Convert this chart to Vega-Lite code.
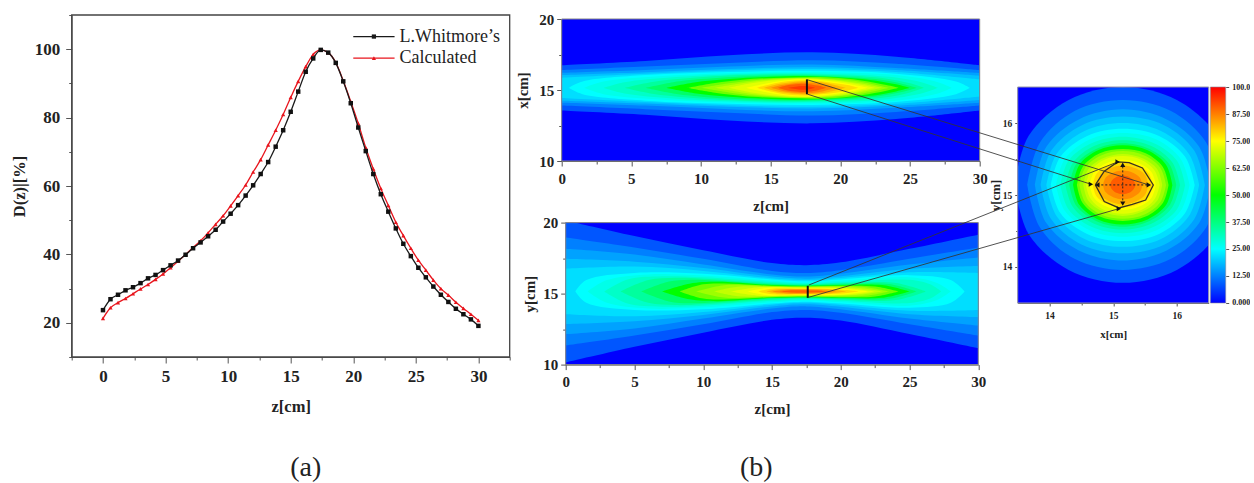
{"$schema":"https://vega.github.io/schema/vega-lite/v6.json","padding":{"left":10.7,"top":12,"right":0,"bottom":0},"autosize":"pad","background":"white","bounds":"flush","spacing":456,
"config":{"view":{"stroke":null},"axis":{"labelFont":"Liberation Serif","titleFont":"Liberation Serif","labelFontWeight":"bold","titleFontWeight":"bold","domainColor":"#555","tickColor":"#555","labelColor":"#222","titleColor":"#222","grid":false,"labelFlush":false,"labelOverlap":false}},
"datasets":{
"one":[{"a":1}],
"curve":[{"z":0,"k":23.7,"r":21.3},{"z":0.6,"k":26.9,"r":24.4},{"z":1.2,"k":28.2,"r":25.9},{"z":1.8,"k":29.5,"r":27.1},{"z":2.4,"k":30.4,"r":28.5},{"z":3,"k":31.6,"r":29.9},{"z":3.6,"k":33,"r":31.2},{"z":4.2,"k":34,"r":32.7},{"z":4.8,"k":35.4,"r":34.3},{"z":5.4,"k":36.8,"r":36.1},{"z":6,"k":38.2,"r":38},{"z":6.6,"k":39.9,"r":40},{"z":7.2,"k":41.8,"r":42},{"z":7.8,"k":43.5,"r":44},{"z":8.4,"k":45.3,"r":46.3},{"z":9,"k":47.2,"r":48.8},{"z":9.6,"k":49.6,"r":51.3},{"z":10.2,"k":51.9,"r":54.2},{"z":10.8,"k":54.4,"r":57.2},{"z":11.4,"k":57.2,"r":60.3},{"z":12,"k":60.2,"r":64.1},{"z":12.6,"k":63.5,"r":67.7},{"z":13.2,"k":67,"r":72},{"z":13.8,"k":71.5,"r":76.3},{"z":14.4,"k":76.3,"r":80.9},{"z":15,"k":81.7,"r":85.9},{"z":15.6,"k":87.6,"r":90.6},{"z":16.2,"k":93.4,"r":94.9},{"z":16.8,"k":97.3,"r":98.5},{"z":17.4,"k":99.8,"r":99.8},{"z":18,"k":99,"r":99},{"z":18.6,"k":96,"r":96.1},{"z":19.2,"k":90.6,"r":90.8},{"z":19.8,"k":84.2,"r":84.7},{"z":20.4,"k":77.1,"r":78.3},{"z":21,"k":70.2,"r":71.2},{"z":21.6,"k":63.5,"r":65},{"z":22.2,"k":57.6,"r":59.3},{"z":22.8,"k":52.5,"r":54.3},{"z":23.4,"k":47.6,"r":49.4},{"z":24,"k":43.1,"r":45.5},{"z":24.6,"k":39.5,"r":41.8},{"z":25.2,"k":36.1,"r":38.3},{"z":25.8,"k":33.3,"r":35.4},{"z":26.4,"k":30.6,"r":32.5},{"z":27,"k":28.2,"r":30},{"z":27.6,"k":26.1,"r":28.1},{"z":28.2,"k":24.1,"r":26},{"z":28.8,"k":22.5,"r":24.2},{"z":29.4,"k":21,"r":22.5},{"z":30,"k":19.1,"r":20.7}],
"key":[{"z":20,"d":103.7,"s":"k"},{"z":23.3,"d":103.7,"s":"k"},{"z":20,"d":97.4,"s":"r"},{"z":23.3,"d":97.4,"s":"r"}],
"keytext":[{"z":23.7,"d":103.7,"t":"L.Whitmore’s"},{"z":23.7,"d":97.4,"t":"Calculated"}],
"keypt":[{"z":21.65,"d":103.7,"s":"k"},{"z":21.65,"d":97.4,"s":"r"}],
"notes":[{"z":16.2,"d":-22.6,"t":"(a)"},{"z":52.2,"d":-22.6,"t":"(b)"}],
"b":[
{"l":4,"z":0,"lo":13.55,"hi":16.75},{"l":4,"z":6,"lo":13.25,"hi":17.05},{"l":4,"z":12,"lo":12.85,"hi":17.45},{"l":4,"z":18,"lo":12.65,"hi":17.65},{"l":4,"z":24,"lo":12.95,"hi":17.35},{"l":4,"z":30,"lo":13.55,"hi":16.75},
{"l":8,"z":0,"lo":13.9,"hi":16.4},{"l":8,"z":6,"lo":13.65,"hi":16.65},{"l":8,"z":12,"lo":13.4,"hi":16.9},{"l":8,"z":18,"lo":13.2,"hi":17.1},{"l":8,"z":24,"lo":13.45,"hi":16.85},{"l":8,"z":30,"lo":13.9,"hi":16.4},
{"l":12,"z":0,"lo":14.1,"hi":16.2},{"l":12,"z":6,"lo":13.9,"hi":16.4},{"l":12,"z":12,"lo":13.65,"hi":16.65},{"l":12,"z":18,"lo":13.5,"hi":16.8},{"l":12,"z":24,"lo":13.75,"hi":16.55},{"l":12,"z":30,"lo":14.1,"hi":16.2},
{"l":16,"z":0,"lo":14.25,"hi":16.05},{"l":16,"z":6,"lo":14.05,"hi":16.25},{"l":16,"z":12,"lo":13.82,"hi":16.48},{"l":16,"z":18,"lo":13.7,"hi":16.6},{"l":16,"z":24,"lo":13.9,"hi":16.4},{"l":16,"z":30,"lo":14.3,"hi":16},
{"l":20,"z":0,"lo":14.43,"hi":15.87},{"l":20,"z":6,"lo":14.15,"hi":16.15},{"l":20,"z":12,"lo":13.93,"hi":16.37},{"l":20,"z":18,"lo":13.82,"hi":16.48},{"l":20,"z":24,"lo":14.03,"hi":16.27},{"l":20,"z":30,"lo":14.55,"hi":15.75},
{"l":25,"z":0.5,"lo":15.15,"hi":15.15},{"l":25,"z":1.5,"lo":14.7,"hi":15.6},{"l":25,"z":6,"lo":14.25,"hi":16.05},{"l":25,"z":12,"lo":14.03,"hi":16.27},{"l":25,"z":18,"lo":13.95,"hi":16.35},{"l":25,"z":24,"lo":14.15,"hi":16.15},{"l":25,"z":28.3,"lo":14.7,"hi":15.6},{"l":25,"z":29.3,"lo":15.15,"hi":15.15},
{"l":30,"z":1.6,"lo":15.15,"hi":15.15},{"l":30,"z":3,"lo":14.7,"hi":15.6},{"l":30,"z":7,"lo":14.33,"hi":15.97},{"l":30,"z":12,"lo":14.12,"hi":16.18},{"l":30,"z":18,"lo":14.05,"hi":16.25},{"l":30,"z":24,"lo":14.25,"hi":16.05},{"l":30,"z":27,"lo":14.75,"hi":15.55},{"l":30,"z":28,"lo":15.15,"hi":15.15},
{"l":35,"z":3,"lo":15.15,"hi":15.15},{"l":35,"z":4.5,"lo":14.75,"hi":15.55},{"l":35,"z":8,"lo":14.4,"hi":15.9},{"l":35,"z":12,"lo":14.2,"hi":16.1},{"l":35,"z":18,"lo":14.13,"hi":16.17},{"l":35,"z":23.5,"lo":14.37,"hi":15.93},{"l":35,"z":26,"lo":14.8,"hi":15.5},{"l":35,"z":27,"lo":15.15,"hi":15.15},
{"l":40,"z":4.5,"lo":15.15,"hi":15.15},{"l":40,"z":6.5,"lo":14.73,"hi":15.57},{"l":40,"z":9,"lo":14.47,"hi":15.83},{"l":40,"z":13,"lo":14.25,"hi":16.05},{"l":40,"z":18,"lo":14.2,"hi":16.1},{"l":40,"z":23,"lo":14.45,"hi":15.85},{"l":40,"z":25,"lo":14.83,"hi":15.47},{"l":40,"z":26,"lo":15.15,"hi":15.15},
{"l":45,"z":6,"lo":15.15,"hi":15.15},{"l":45,"z":8,"lo":14.75,"hi":15.55},{"l":45,"z":10,"lo":14.53,"hi":15.77},{"l":45,"z":14,"lo":14.31,"hi":15.99},{"l":45,"z":18,"lo":14.27,"hi":16.03},{"l":45,"z":22.5,"lo":14.53,"hi":15.77},{"l":45,"z":24.5,"lo":14.87,"hi":15.43},{"l":45,"z":25.5,"lo":15.15,"hi":15.15},
{"l":50,"z":7.5,"lo":15.15,"hi":15.15},{"l":50,"z":9.5,"lo":14.77,"hi":15.53},{"l":50,"z":12,"lo":14.53,"hi":15.77},{"l":50,"z":15,"lo":14.37,"hi":15.93},{"l":50,"z":18,"lo":14.33,"hi":15.97},{"l":50,"z":22,"lo":14.57,"hi":15.73},{"l":50,"z":24,"lo":14.9,"hi":15.4},{"l":50,"z":25,"lo":15.15,"hi":15.15},
{"l":55,"z":9,"lo":15.15,"hi":15.15},{"l":55,"z":11,"lo":14.8,"hi":15.5},{"l":55,"z":13,"lo":14.57,"hi":15.73},{"l":55,"z":16,"lo":14.43,"hi":15.87},{"l":55,"z":19,"lo":14.41,"hi":15.89},{"l":55,"z":21.5,"lo":14.63,"hi":15.67},{"l":55,"z":23.3,"lo":14.95,"hi":15.35},{"l":55,"z":24.2,"lo":15.15,"hi":15.15},
{"l":60,"z":10,"lo":15.15,"hi":15.15},{"l":60,"z":12,"lo":14.83,"hi":15.47},{"l":60,"z":14,"lo":14.59,"hi":15.71},{"l":60,"z":17,"lo":14.45,"hi":15.85},{"l":60,"z":19.5,"lo":14.53,"hi":15.77},{"l":60,"z":21.5,"lo":14.73,"hi":15.57},{"l":60,"z":23.5,"lo":15.15,"hi":15.15},
{"l":65,"z":11,"lo":15.15,"hi":15.15},{"l":65,"z":12.8,"lo":14.85,"hi":15.45},{"l":65,"z":15,"lo":14.57,"hi":15.73},{"l":65,"z":17.5,"lo":14.47,"hi":15.83},{"l":65,"z":19.5,"lo":14.57,"hi":15.73},{"l":65,"z":21.5,"lo":14.85,"hi":15.45},{"l":65,"z":23,"lo":15.15,"hi":15.15},
{"l":70,"z":12,"lo":15.15,"hi":15.15},{"l":70,"z":13.5,"lo":14.85,"hi":15.45},{"l":70,"z":15.5,"lo":14.6,"hi":15.7},{"l":70,"z":17.5,"lo":14.5,"hi":15.8},{"l":70,"z":19.5,"lo":14.63,"hi":15.67},{"l":70,"z":21.3,"lo":14.9,"hi":15.4},{"l":70,"z":22.5,"lo":15.15,"hi":15.15},
{"l":75,"z":13.2,"lo":15.15,"hi":15.15},{"l":75,"z":14.5,"lo":14.87,"hi":15.43},{"l":75,"z":16,"lo":14.63,"hi":15.67},{"l":75,"z":17.5,"lo":14.55,"hi":15.75},{"l":75,"z":19.3,"lo":14.68,"hi":15.62},{"l":75,"z":21,"lo":14.95,"hi":15.35},{"l":75,"z":22,"lo":15.15,"hi":15.15},
{"l":80,"z":14,"lo":15.15,"hi":15.15},{"l":80,"z":15,"lo":14.89,"hi":15.41},{"l":80,"z":16.2,"lo":14.68,"hi":15.62},{"l":80,"z":17.5,"lo":14.62,"hi":15.68},{"l":80,"z":19,"lo":14.73,"hi":15.57},{"l":80,"z":20.5,"lo":14.95,"hi":15.35},{"l":80,"z":21.3,"lo":15.15,"hi":15.15},
{"l":85,"z":14.5,"lo":15.15,"hi":15.15},{"l":85,"z":15.4,"lo":14.91,"hi":15.39},{"l":85,"z":16.5,"lo":14.75,"hi":15.55},{"l":85,"z":17.5,"lo":14.69,"hi":15.61},{"l":85,"z":19,"lo":14.82,"hi":15.48},{"l":85,"z":20.4,"lo":15.15,"hi":15.15},
{"l":90,"z":15,"lo":15.15,"hi":15.15},{"l":90,"z":15.8,"lo":14.95,"hi":15.35},{"l":90,"z":16.8,"lo":14.8,"hi":15.5},{"l":90,"z":17.5,"lo":14.77,"hi":15.53},{"l":90,"z":18.7,"lo":14.9,"hi":15.4},{"l":90,"z":19.7,"lo":15.15,"hi":15.15},
{"l":95,"z":15.5,"lo":15.15,"hi":15.15},{"l":95,"z":16.2,"lo":14.97,"hi":15.33},{"l":95,"z":17,"lo":14.88,"hi":15.42},{"l":95,"z":17.6,"lo":14.87,"hi":15.43},{"l":95,"z":18.4,"lo":14.99,"hi":15.31},{"l":95,"z":19,"lo":15.15,"hi":15.15},
{"l":98,"z":16.2,"lo":15.15,"hi":15.15},{"l":98,"z":17,"lo":15.03,"hi":15.27},{"l":98,"z":17.6,"lo":15.02,"hi":15.28},{"l":98,"z":18.2,"lo":15.15,"hi":15.15}],
"c":[
{"l":4,"z":0,"lo":10.15,"hi":20.15},{"l":4,"z":5,"lo":11.25,"hi":19.05},{"l":4,"z":10,"lo":12.25,"hi":18.05},{"l":4,"z":15,"lo":13.15,"hi":17.15},{"l":4,"z":17.5,"lo":13.3,"hi":17},{"l":4,"z":20,"lo":13.1,"hi":17.2},{"l":4,"z":25,"lo":12.15,"hi":18.15},{"l":4,"z":30,"lo":11.15,"hi":19.15},
{"l":8,"z":0,"lo":11.35,"hi":18.95},{"l":8,"z":5,"lo":12.05,"hi":18.25},{"l":8,"z":10,"lo":12.85,"hi":17.45},{"l":8,"z":15,"lo":13.7,"hi":16.6},{"l":8,"z":17.5,"lo":13.85,"hi":16.45},{"l":8,"z":20,"lo":13.65,"hi":16.65},{"l":8,"z":25,"lo":12.85,"hi":17.45},{"l":8,"z":30,"lo":12.05,"hi":18.25},
{"l":12,"z":0,"lo":12.15,"hi":18.15},{"l":12,"z":5,"lo":12.55,"hi":17.75},{"l":12,"z":10,"lo":13.25,"hi":17.05},{"l":12,"z":15,"lo":13.95,"hi":16.35},{"l":12,"z":17.5,"lo":14.1,"hi":16.2},{"l":12,"z":20,"lo":13.9,"hi":16.4},{"l":12,"z":25,"lo":13.25,"hi":17.05},{"l":12,"z":30,"lo":12.75,"hi":17.55},
{"l":16,"z":0,"lo":12.85,"hi":17.45},{"l":16,"z":5,"lo":13.05,"hi":17.25},{"l":16,"z":10,"lo":13.5,"hi":16.8},{"l":16,"z":15,"lo":14.1,"hi":16.2},{"l":16,"z":17.5,"lo":14.25,"hi":16.05},{"l":16,"z":20,"lo":14.07,"hi":16.23},{"l":16,"z":25,"lo":13.55,"hi":16.75},{"l":16,"z":30,"lo":13.35,"hi":16.95},
{"l":20,"z":0,"lo":13.55,"hi":16.75},{"l":20,"z":5,"lo":13.4,"hi":16.9},{"l":20,"z":10,"lo":13.7,"hi":16.6},{"l":20,"z":15,"lo":14.22,"hi":16.08},{"l":20,"z":17.5,"lo":14.35,"hi":15.95},{"l":20,"z":20,"lo":14.2,"hi":16.1},{"l":20,"z":25,"lo":13.8,"hi":16.5},{"l":20,"z":30,"lo":13.85,"hi":16.45},
{"l":25,"z":0.7,"lo":15.15,"hi":15.15},{"l":25,"z":1.5,"lo":14.35,"hi":15.95},{"l":25,"z":5,"lo":13.85,"hi":16.45},{"l":25,"z":10,"lo":13.9,"hi":16.4},{"l":25,"z":15,"lo":14.3,"hi":16},{"l":25,"z":17.5,"lo":14.43,"hi":15.87},{"l":25,"z":20,"lo":14.3,"hi":16},{"l":25,"z":25,"lo":14,"hi":16.3},{"l":25,"z":28,"lo":14.35,"hi":15.95},{"l":25,"z":29,"lo":15.15,"hi":15.15},
{"l":30,"z":1.6,"lo":15.15,"hi":15.15},{"l":30,"z":3,"lo":14.35,"hi":15.95},{"l":30,"z":6,"lo":13.95,"hi":16.35},{"l":30,"z":10,"lo":14.03,"hi":16.27},{"l":30,"z":15,"lo":14.39,"hi":15.91},{"l":30,"z":17.5,"lo":14.52,"hi":15.78},{"l":30,"z":20,"lo":14.4,"hi":15.9},{"l":30,"z":25,"lo":14.15,"hi":16.15},{"l":30,"z":27,"lo":14.55,"hi":15.75},{"l":30,"z":28,"lo":15.15,"hi":15.15},
{"l":35,"z":2.8,"lo":15.15,"hi":15.15},{"l":35,"z":4.5,"lo":14.3,"hi":16},{"l":35,"z":7,"lo":14.08,"hi":16.22},{"l":35,"z":10,"lo":14.15,"hi":16.15},{"l":35,"z":15,"lo":14.49,"hi":15.81},{"l":35,"z":17.5,"lo":14.59,"hi":15.71},{"l":35,"z":20,"lo":14.5,"hi":15.8},{"l":35,"z":25,"lo":14.33,"hi":15.97},{"l":35,"z":26.5,"lo":14.65,"hi":15.65},{"l":35,"z":27.3,"lo":15.15,"hi":15.15},
{"l":40,"z":4,"lo":15.15,"hi":15.15},{"l":40,"z":6,"lo":14.35,"hi":15.95},{"l":40,"z":8,"lo":14.19,"hi":16.11},{"l":40,"z":10,"lo":14.25,"hi":16.05},{"l":40,"z":15,"lo":14.57,"hi":15.73},{"l":40,"z":17.5,"lo":14.65,"hi":15.65},{"l":40,"z":20,"lo":14.57,"hi":15.73},{"l":40,"z":24,"lo":14.55,"hi":15.75},{"l":40,"z":26.2,"lo":15.15,"hi":15.15},
{"l":45,"z":5.5,"lo":15.15,"hi":15.15},{"l":45,"z":7.5,"lo":14.45,"hi":15.85},{"l":45,"z":9,"lo":14.32,"hi":15.98},{"l":45,"z":11,"lo":14.39,"hi":15.91},{"l":45,"z":15,"lo":14.65,"hi":15.65},{"l":45,"z":17.5,"lo":14.71,"hi":15.59},{"l":45,"z":20,"lo":14.64,"hi":15.66},{"l":45,"z":23.5,"lo":14.63,"hi":15.67},{"l":45,"z":25.5,"lo":15.15,"hi":15.15},
{"l":50,"z":7,"lo":15.15,"hi":15.15},{"l":50,"z":9,"lo":14.6,"hi":15.7},{"l":50,"z":11,"lo":14.47,"hi":15.83},{"l":50,"z":15,"lo":14.7,"hi":15.6},{"l":50,"z":17.5,"lo":14.75,"hi":15.55},{"l":50,"z":20,"lo":14.7,"hi":15.6},{"l":50,"z":23,"lo":14.7,"hi":15.6},{"l":50,"z":25,"lo":15.15,"hi":15.15},
{"l":55,"z":8.3,"lo":15.15,"hi":15.15},{"l":55,"z":10,"lo":14.65,"hi":15.65},{"l":55,"z":12,"lo":14.6,"hi":15.7},{"l":55,"z":15,"lo":14.75,"hi":15.55},{"l":55,"z":17.5,"lo":14.79,"hi":15.51},{"l":55,"z":20,"lo":14.75,"hi":15.55},{"l":55,"z":22.5,"lo":14.8,"hi":15.5},{"l":55,"z":24.2,"lo":15.15,"hi":15.15},
{"l":60,"z":9.5,"lo":15.15,"hi":15.15},{"l":60,"z":11.5,"lo":14.72,"hi":15.58},{"l":60,"z":13,"lo":14.7,"hi":15.6},{"l":60,"z":15,"lo":14.78,"hi":15.52},{"l":60,"z":17.5,"lo":14.82,"hi":15.48},{"l":60,"z":20,"lo":14.79,"hi":15.51},{"l":60,"z":22,"lo":14.87,"hi":15.43},{"l":60,"z":23.5,"lo":15.15,"hi":15.15},
{"l":65,"z":10.8,"lo":15.15,"hi":15.15},{"l":65,"z":12.5,"lo":14.82,"hi":15.48},{"l":65,"z":15,"lo":14.82,"hi":15.48},{"l":65,"z":17.5,"lo":14.85,"hi":15.45},{"l":65,"z":20,"lo":14.84,"hi":15.46},{"l":65,"z":21.5,"lo":14.93,"hi":15.37},{"l":65,"z":23,"lo":15.15,"hi":15.15},
{"l":70,"z":12,"lo":15.15,"hi":15.15},{"l":70,"z":14,"lo":14.85,"hi":15.45},{"l":70,"z":16,"lo":14.87,"hi":15.43},{"l":70,"z":17.5,"lo":14.88,"hi":15.42},{"l":70,"z":19.5,"lo":14.88,"hi":15.42},{"l":70,"z":21,"lo":14.95,"hi":15.35},{"l":70,"z":22.5,"lo":15.15,"hi":15.15},
{"l":75,"z":13.2,"lo":15.15,"hi":15.15},{"l":75,"z":14.7,"lo":14.89,"hi":15.41},{"l":75,"z":16.5,"lo":14.9,"hi":15.4},{"l":75,"z":17.5,"lo":14.91,"hi":15.39},{"l":75,"z":19.5,"lo":14.92,"hi":15.38},{"l":75,"z":21,"lo":15.03,"hi":15.27},{"l":75,"z":22,"lo":15.15,"hi":15.15},
{"l":80,"z":14,"lo":15.15,"hi":15.15},{"l":80,"z":15,"lo":14.95,"hi":15.35},{"l":80,"z":17,"lo":14.94,"hi":15.36},{"l":80,"z":19,"lo":14.96,"hi":15.34},{"l":80,"z":20.5,"lo":15.05,"hi":15.25},{"l":80,"z":21.3,"lo":15.15,"hi":15.15},
{"l":85,"z":14.6,"lo":15.15,"hi":15.15},{"l":85,"z":15.5,"lo":15,"hi":15.3},{"l":85,"z":17,"lo":14.98,"hi":15.32},{"l":85,"z":19,"lo":15,"hi":15.3},{"l":85,"z":20.4,"lo":15.15,"hi":15.15},
{"l":90,"z":15,"lo":15.15,"hi":15.15},{"l":90,"z":16,"lo":15.03,"hi":15.27},{"l":90,"z":17,"lo":15.01,"hi":15.29},{"l":90,"z":18.5,"lo":15.04,"hi":15.26},{"l":90,"z":19.7,"lo":15.15,"hi":15.15},
{"l":95,"z":15.6,"lo":15.15,"hi":15.15},{"l":95,"z":16.5,"lo":15.07,"hi":15.23},{"l":95,"z":17.3,"lo":15.06,"hi":15.24},{"l":95,"z":18.2,"lo":15.09,"hi":15.21},{"l":95,"z":19,"lo":15.15,"hi":15.15}],
"d":[
{"l":4,"x":13.45,"lo":15.14,"hi":15.14},{"l":4,"x":13.67,"lo":14.46,"hi":15.82},{"l":4,"x":14.3,"lo":13.96,"hi":16.32},{"l":4,"x":15.15,"lo":13.78,"hi":16.5},{"l":4,"x":16,"lo":13.96,"hi":16.32},{"l":4,"x":16.63,"lo":14.46,"hi":15.82},{"l":4,"x":16.85,"lo":15.14,"hi":15.14},
{"l":8,"x":13.65,"lo":15.14,"hi":15.14},{"l":8,"x":13.85,"lo":14.55,"hi":15.73},{"l":8,"x":14.4,"lo":14.11,"hi":16.17},{"l":8,"x":15.15,"lo":13.96,"hi":16.32},{"l":8,"x":15.9,"lo":14.11,"hi":16.17},{"l":8,"x":16.46,"lo":14.55,"hi":15.73},{"l":8,"x":16.65,"lo":15.14,"hi":15.14},
{"l":12,"x":13.77,"lo":15.14,"hi":15.14},{"l":12,"x":13.95,"lo":14.61,"hi":15.67},{"l":12,"x":14.46,"lo":14.23,"hi":16.05},{"l":12,"x":15.15,"lo":14.09,"hi":16.19},{"l":12,"x":15.84,"lo":14.23,"hi":16.05},{"l":12,"x":16.35,"lo":14.61,"hi":15.67},{"l":12,"x":16.53,"lo":15.14,"hi":15.14},
{"l":16,"x":13.86,"lo":15.14,"hi":15.14},{"l":16,"x":14.03,"lo":14.66,"hi":15.62},{"l":16,"x":14.51,"lo":14.31,"hi":15.97},{"l":16,"x":15.15,"lo":14.19,"hi":16.09},{"l":16,"x":15.8,"lo":14.31,"hi":15.97},{"l":16,"x":16.27,"lo":14.66,"hi":15.62},{"l":16,"x":16.44,"lo":15.14,"hi":15.14},
{"l":20,"x":13.95,"lo":15.14,"hi":15.14},{"l":20,"x":14.11,"lo":14.71,"hi":15.57},{"l":20,"x":14.55,"lo":14.39,"hi":15.89},{"l":20,"x":15.15,"lo":14.28,"hi":16},{"l":20,"x":15.75,"lo":14.39,"hi":15.89},{"l":20,"x":16.19,"lo":14.71,"hi":15.57},{"l":20,"x":16.35,"lo":15.14,"hi":15.14},
{"l":25,"x":14.02,"lo":15.14,"hi":15.14},{"l":25,"x":14.17,"lo":14.75,"hi":15.53},{"l":25,"x":14.59,"lo":14.46,"hi":15.82},{"l":25,"x":15.15,"lo":14.36,"hi":15.92},{"l":25,"x":15.72,"lo":14.46,"hi":15.82},{"l":25,"x":16.13,"lo":14.75,"hi":15.53},{"l":25,"x":16.28,"lo":15.14,"hi":15.14},
{"l":30,"x":14.1,"lo":15.14,"hi":15.14},{"l":30,"x":14.24,"lo":14.78,"hi":15.5},{"l":30,"x":14.63,"lo":14.51,"hi":15.77},{"l":30,"x":15.15,"lo":14.42,"hi":15.86},{"l":30,"x":15.68,"lo":14.51,"hi":15.77},{"l":30,"x":16.06,"lo":14.78,"hi":15.5},{"l":30,"x":16.2,"lo":15.14,"hi":15.14},
{"l":35,"x":14.17,"lo":15.14,"hi":15.14},{"l":35,"x":14.3,"lo":14.8,"hi":15.48},{"l":35,"x":14.66,"lo":14.56,"hi":15.72},{"l":35,"x":15.15,"lo":14.47,"hi":15.81},{"l":35,"x":15.64,"lo":14.56,"hi":15.72},{"l":35,"x":16,"lo":14.8,"hi":15.48},{"l":35,"x":16.13,"lo":15.14,"hi":15.14},
{"l":40,"x":14.25,"lo":15.14,"hi":15.14},{"l":40,"x":14.37,"lo":14.83,"hi":15.45},{"l":40,"x":14.7,"lo":14.6,"hi":15.68},{"l":40,"x":15.15,"lo":14.52,"hi":15.76},{"l":40,"x":15.6,"lo":14.6,"hi":15.68},{"l":40,"x":15.93,"lo":14.83,"hi":15.45},{"l":40,"x":16.05,"lo":15.14,"hi":15.14},
{"l":45,"x":14.31,"lo":15.14,"hi":15.14},{"l":45,"x":14.42,"lo":14.85,"hi":15.43},{"l":45,"x":14.73,"lo":14.64,"hi":15.64},{"l":45,"x":15.15,"lo":14.56,"hi":15.72},{"l":45,"x":15.57,"lo":14.64,"hi":15.64},{"l":45,"x":15.88,"lo":14.85,"hi":15.43},{"l":45,"x":15.99,"lo":15.14,"hi":15.14},
{"l":50,"x":14.37,"lo":15.14,"hi":15.14},{"l":50,"x":14.47,"lo":14.86,"hi":15.42},{"l":50,"x":14.76,"lo":14.66,"hi":15.62},{"l":50,"x":15.15,"lo":14.59,"hi":15.69},{"l":50,"x":15.54,"lo":14.66,"hi":15.62},{"l":50,"x":15.83,"lo":14.86,"hi":15.42},{"l":50,"x":15.93,"lo":15.14,"hi":15.14},
{"l":55,"x":14.43,"lo":15.14,"hi":15.14},{"l":55,"x":14.52,"lo":14.89,"hi":15.39},{"l":55,"x":14.79,"lo":14.7,"hi":15.58},{"l":55,"x":15.15,"lo":14.64,"hi":15.64},{"l":55,"x":15.51,"lo":14.7,"hi":15.58},{"l":55,"x":15.78,"lo":14.89,"hi":15.39},{"l":55,"x":15.87,"lo":15.14,"hi":15.14},
{"l":60,"x":14.47,"lo":15.14,"hi":15.14},{"l":60,"x":14.56,"lo":14.9,"hi":15.38},{"l":60,"x":14.81,"lo":14.73,"hi":15.55},{"l":60,"x":15.15,"lo":14.67,"hi":15.61},{"l":60,"x":15.49,"lo":14.73,"hi":15.55},{"l":60,"x":15.74,"lo":14.9,"hi":15.38},{"l":60,"x":15.83,"lo":15.14,"hi":15.14},
{"l":65,"x":14.53,"lo":15.14,"hi":15.14},{"l":65,"x":14.61,"lo":14.92,"hi":15.36},{"l":65,"x":14.84,"lo":14.77,"hi":15.51},{"l":65,"x":15.15,"lo":14.71,"hi":15.57},{"l":65,"x":15.46,"lo":14.77,"hi":15.51},{"l":65,"x":15.69,"lo":14.92,"hi":15.36},{"l":65,"x":15.77,"lo":15.14,"hi":15.14},
{"l":70,"x":14.57,"lo":15.14,"hi":15.14},{"l":70,"x":14.65,"lo":14.94,"hi":15.34},{"l":70,"x":14.86,"lo":14.79,"hi":15.49},{"l":70,"x":15.15,"lo":14.74,"hi":15.54},{"l":70,"x":15.44,"lo":14.79,"hi":15.49},{"l":70,"x":15.65,"lo":14.94,"hi":15.34},{"l":70,"x":15.73,"lo":15.14,"hi":15.14},
{"l":75,"x":14.63,"lo":15.14,"hi":15.14},{"l":75,"x":14.7,"lo":14.96,"hi":15.32},{"l":75,"x":14.89,"lo":14.84,"hi":15.44},{"l":75,"x":15.15,"lo":14.79,"hi":15.49},{"l":75,"x":15.41,"lo":14.84,"hi":15.44},{"l":75,"x":15.6,"lo":14.96,"hi":15.32},{"l":75,"x":15.67,"lo":15.14,"hi":15.14},
{"l":80,"x":14.68,"lo":15.14,"hi":15.14},{"l":80,"x":14.74,"lo":14.98,"hi":15.3},{"l":80,"x":14.92,"lo":14.87,"hi":15.41},{"l":80,"x":15.15,"lo":14.83,"hi":15.45},{"l":80,"x":15.39,"lo":14.87,"hi":15.41},{"l":80,"x":15.56,"lo":14.98,"hi":15.3},{"l":80,"x":15.62,"lo":15.14,"hi":15.14},
{"l":85,"x":14.75,"lo":15.14,"hi":15.14},{"l":85,"x":14.8,"lo":15,"hi":15.28},{"l":85,"x":14.95,"lo":14.91,"hi":15.37},{"l":85,"x":15.15,"lo":14.87,"hi":15.41},{"l":85,"x":15.35,"lo":14.91,"hi":15.37},{"l":85,"x":15.5,"lo":15,"hi":15.28},{"l":85,"x":15.55,"lo":15.14,"hi":15.14},
{"l":90,"x":14.84,"lo":15.14,"hi":15.14},{"l":90,"x":14.88,"lo":15.04,"hi":15.24},{"l":90,"x":15,"lo":14.97,"hi":15.31},{"l":90,"x":15.15,"lo":14.94,"hi":15.34},{"l":90,"x":15.31,"lo":14.97,"hi":15.31},{"l":90,"x":15.42,"lo":15.04,"hi":15.24},{"l":90,"x":15.46,"lo":15.14,"hi":15.14},
{"l":95,"x":14.95,"lo":15.14,"hi":15.14},{"l":95,"x":14.98,"lo":15.08,"hi":15.2},{"l":95,"x":15.05,"lo":15.03,"hi":15.25},{"l":95,"x":15.15,"lo":15.01,"hi":15.27},{"l":95,"x":15.25,"lo":15.03,"hi":15.25},{"l":95,"x":15.32,"lo":15.08,"hi":15.2},{"l":95,"x":15.35,"lo":15.14,"hi":15.14}],
"hull":[{"i":0,"x":14.72,"y":15.14},{"i":1,"x":14.86,"y":15.33},{"i":2,"x":15.07,"y":15.46},{"i":3,"x":15.25,"y":15.45},{"i":4,"x":15.46,"y":15.375},{"i":5,"x":15.63,"y":15.14},{"i":6,"x":15.51,"y":14.93},{"i":7,"x":15.3,"y":14.87},{"i":8,"x":15.09,"y":14.82},{"i":9,"x":14.86,"y":14.91},{"i":10,"x":14.72,"y":15.14}],
"cross":[{"x":14.75,"x2":15.56,"y":15.14,"y2":15.14},{"x":15.15,"x2":15.15,"y":14.87,"y2":15.42}],
"tips":[{"x":14.75,"y":15.14,"s":"triangle-left"},{"x":15.56,"y":15.14,"s":"triangle-right"},{"x":15.15,"y":15.42,"s":"triangle-up"},{"x":15.15,"y":14.88,"s":"triangle-down"},{"x":14.65,"y":15.15,"s":"triangle-right"},{"x":15.07,"y":15.46,"s":"triangle-right"},{"x":15.09,"y":14.81,"s":"triangle-right"}],
"links":[{"x":10.2,"y":16.6,"x2":15.56,"y2":15.14},{"x":10.2,"y":16.4,"x2":14.65,"y2":15.15},{"x":10.22,"y":13.75,"x2":15.07,"y2":15.46},{"x":10.22,"y":13.58,"x2":15.09,"y2":14.81}]
},
"hconcat":[
{"width":34,"height":342,"resolve":{"axis":{"x":"independent","y":"independent"}},"layer":[
{"data":{"name":"one"},"mark":{"type":"rect","filled":false,"stroke":"#444","strokeWidth":1.3},"encoding":{"x":{"datum":-2.5,"type":"quantitative","scale":{"domain":[-2.5,32.5],"range":[0,438],"nice":false},"axis":{"values":[0,5,10,15,20,25,30],"title":"z[cm]","labelFontSize":17,"titleFontSize":16.5,"tickSize":6,"labelPadding":6,"titlePadding":14}},"x2":{"datum":32.5},"y":{"datum":10,"type":"quantitative","scale":{"domain":[10,110],"range":[342,0],"nice":false},"axis":{"values":[20,40,60,80,100],"title":"D(z)|[%]","labelFontSize":17,"titleFontSize":16.5,"tickSize":6,"labelPadding":6,"titlePadding":7}},"y2":{"datum":110}}},
{"data":{"name":"one"},"mark":{"type":"rect","opacity":0},"encoding":{"x":{"datum":-2.5,"type":"quantitative","axis":{"orient":"bottom","values":[-2.5,2.5,7.5,12.5,17.5,22.5,27.5,32.5],"labels":false,"title":null,"domain":false,"tickSize":3}},"x2":{"datum":32.5},"y":{"datum":10,"type":"quantitative","axis":{"orient":"left","values":[10,30,50,70,90,110],"labels":false,"title":null,"domain":false,"tickSize":3}},"y2":{"datum":110}}},
{"data":{"name":"curve"},"mark":{"type":"line","color":"#e8141c","strokeWidth":1.3,"interpolate":"monotone"},"encoding":{"x":{"field":"z","type":"quantitative","axis":null},"y":{"field":"r","type":"quantitative","axis":null}}},
{"data":{"name":"curve"},"mark":{"type":"point","filled":true,"shape":"triangle-up","size":18,"color":"#e8141c","opacity":1},"encoding":{"x":{"field":"z","type":"quantitative","axis":null},"y":{"field":"r","type":"quantitative","axis":null}}},
{"data":{"name":"curve"},"mark":{"type":"line","color":"#1a1a1a","strokeWidth":1.3,"interpolate":"monotone"},"encoding":{"x":{"field":"z","type":"quantitative","axis":null},"y":{"field":"k","type":"quantitative","axis":null}}},
{"data":{"name":"curve"},"mark":{"type":"point","filled":true,"shape":"square","size":20,"color":"#111","opacity":1},"encoding":{"x":{"field":"z","type":"quantitative","axis":null},"y":{"field":"k","type":"quantitative","axis":null}}},
{"data":{"name":"key"},"mark":{"type":"line","strokeWidth":1.3},"encoding":{"x":{"field":"z","type":"quantitative","axis":null},"y":{"field":"d","type":"quantitative","axis":null},"color":{"field":"s","type":"nominal","legend":null,"scale":{"domain":["k","r"],"range":["#1a1a1a","#e8141c"]}}}},
{"data":{"name":"keypt"},"mark":{"type":"point","filled":true,"size":18,"opacity":1},"encoding":{"x":{"field":"z","type":"quantitative","axis":null},"y":{"field":"d","type":"quantitative","axis":null},"color":{"field":"s","type":"nominal","legend":null},"shape":{"field":"s","type":"nominal","legend":null,"scale":{"domain":["k","r"],"range":["square","triangle-up"]}}}},
{"data":{"name":"keytext"},"mark":{"type":"text","align":"left","baseline":"middle","font":"Liberation Serif","fontSize":18,"color":"#222"},"encoding":{"x":{"field":"z","type":"quantitative","axis":null},"y":{"field":"d","type":"quantitative","axis":null},"text":{"field":"t"}}},
{"data":{"name":"notes"},"mark":{"type":"text","align":"center","baseline":"middle","font":"Liberation Serif","fontSize":28,"color":"#222"},"encoding":{"x":{"field":"z","type":"quantitative","axis":null},"y":{"field":"d","type":"quantitative","axis":null},"text":{"field":"t"}}}
]},
{"vconcat":[
{"width":418,"height":146,"resolve":{"axis":{"x":"independent","y":"independent"}},"layer":[
{"data":{"name":"one"},"mark":{"type":"rect","color":"#0000ff"},"encoding":{"x":{"datum":0,"type":"quantitative","scale":{"domain":[0,30],"range":[0,418],"nice":false},"axis":{"values":[0,5,10,15,20,25,30],"title":"z[cm]","labelFontSize":15,"titleFontSize":15,"tickSize":5,"labelPadding":5,"titlePadding":12}},"x2":{"datum":30},"y":{"datum":10,"type":"quantitative","scale":{"domain":[10,20],"range":[146,4],"nice":false},"axis":{"values":[10,15,20],"title":"x[cm]","labelFontSize":15,"titleFontSize":15,"tickSize":5,"labelPadding":3,"titlePadding":8}},"y2":{"datum":20}}},
{"data":{"name":"b"},"mark":{"type":"area","interpolate":"catmull-rom","clip":true},"encoding":{"x":{"field":"z","type":"quantitative","axis":null},"y":{"field":"lo","type":"quantitative","axis":null},"y2":{"field":"hi"},"detail":{"field":"l","type":"nominal"},"color":{"field":"l","type":"quantitative","legend":null,"scale":{"domain":[0,25,50,75,100],"range":["#0000ff","#00ffff","#00ff00","#ffff00","#ff0000"]}}}},
{"data":{"name":"one"},"mark":{"type":"rect","filled":false,"stroke":"#888","strokeWidth":1},"encoding":{"x":{"datum":0,"type":"quantitative","axis":{"orient":"bottom","values":[2.5,7.5,12.5,17.5,22.5,27.5],"labels":false,"title":null,"domain":false,"tickSize":3}},"x2":{"datum":30},"y":{"datum":10,"type":"quantitative","axis":{"orient":"left","values":[12.5,17.5],"labels":false,"title":null,"domain":false,"tickSize":3}},"y2":{"datum":20}}},
{"data":{"name":"one"},"mark":{"type":"rule","color":"#111","strokeWidth":2},"encoding":{"x":{"datum":17.6,"type":"quantitative","axis":null},"y":{"datum":14.7,"type":"quantitative","axis":null},"y2":{"datum":15.75}}}
]},
{"width":418,"height":142,"resolve":{"axis":{"x":"independent","y":"independent"}},"layer":[
{"data":{"name":"one"},"mark":{"type":"rect","color":"#0000ff"},"encoding":{"x":{"datum":0,"type":"quantitative","scale":{"domain":[0,30],"range":[4,416.6],"nice":false},"axis":{"values":[0,5,10,15,20,25,30],"title":"z[cm]","labelFontSize":15,"titleFontSize":15,"tickSize":5,"labelPadding":5,"titlePadding":12}},"x2":{"datum":30},"y":{"datum":10,"type":"quantitative","scale":{"domain":[10,20],"range":[142,0],"nice":false},"axis":{"offset":-4,"values":[10,15,20],"title":"y[cm]","labelFontSize":15,"titleFontSize":15,"tickSize":5,"labelPadding":3,"titlePadding":5}},"y2":{"datum":20}}},
{"data":{"name":"c"},"mark":{"type":"area","interpolate":"catmull-rom","clip":true},"encoding":{"x":{"field":"z","type":"quantitative","axis":null},"y":{"field":"lo","type":"quantitative","axis":null},"y2":{"field":"hi"},"detail":{"field":"l","type":"nominal"},"color":{"field":"l","type":"quantitative","legend":null,"scale":{"domain":[0,25,50,75,100],"range":["#0000ff","#00ffff","#00ff00","#ffff00","#ff0000"]}}}},
{"data":{"name":"one"},"mark":{"type":"rect","filled":false,"stroke":"#888","strokeWidth":1},"encoding":{"x":{"datum":0,"type":"quantitative","axis":{"orient":"bottom","values":[2.5,7.5,12.5,17.5,22.5,27.5],"labels":false,"title":null,"domain":false,"tickSize":3}},"x2":{"datum":30},"y":{"datum":10,"type":"quantitative","axis":{"orient":"left","offset":-4,"values":[12.5,17.5],"labels":false,"title":null,"domain":false,"tickSize":3}},"y2":{"datum":20}}},
{"data":{"name":"one"},"mark":{"type":"rule","color":"#111","strokeWidth":2},"encoding":{"x":{"datum":17.6,"type":"quantitative","axis":null},"y":{"datum":14.7,"type":"quantitative","axis":null},"y2":{"datum":15.55}}}
]}
],"bounds":"flush","spacing":61.6},
{"hconcat":[
{"width":191,"height":288,"resolve":{"axis":{"x":"independent","y":"independent"}},"layer":[
{"data":{"name":"one"},"mark":{"type":"rect","color":"#0000ff"},"encoding":{"x":{"datum":13.5,"type":"quantitative","scale":{"domain":[13.5,16.5],"range":[0,191],"nice":false},"axis":{"values":[14,15,16],"title":"x[cm]","labelFontSize":9.5,"titleFontSize":11,"tickSize":3,"labelPadding":5,"titlePadding":8}},"x2":{"datum":16.5},"y":{"datum":13.5,"type":"quantitative","scale":{"domain":[13.5,16.5],"range":[288,72],"nice":false},"axis":{"values":[14,15,16],"title":"y[cm]","labelFontSize":9.5,"titleFontSize":13,"tickSize":3,"labelPadding":3,"titlePadding":0}},"y2":{"datum":16.5}}},
{"data":{"name":"d"},"mark":{"type":"area","interpolate":"catmull-rom","clip":true},"encoding":{"x":{"field":"x","type":"quantitative","axis":null},"y":{"field":"lo","type":"quantitative","axis":null},"y2":{"field":"hi"},"detail":{"field":"l","type":"nominal"},"color":{"field":"l","type":"quantitative","legend":null,"scale":{"domain":[0,25,50,75,100],"range":["#0000ff","#00ffff","#00ff00","#ffff00","#ff0000"]}}}},
{"data":{"name":"one"},"mark":{"type":"rect","filled":false,"stroke":"#99a","strokeWidth":1},"encoding":{"x":{"datum":13.5,"type":"quantitative","axis":{"orient":"bottom","values":[14.5,15.5],"labels":false,"title":null,"domain":false,"tickSize":2}},"x2":{"datum":16.5},"y":{"datum":13.5,"type":"quantitative","axis":{"orient":"left","values":[14.5,15.5],"labels":false,"title":null,"domain":false,"tickSize":2}},"y2":{"datum":16.5}}},
{"data":{"name":"links"},"mark":{"type":"rule","color":"#333","strokeWidth":1,"opacity":0.85},"encoding":{"x":{"field":"x","type":"quantitative","axis":null},"y":{"field":"y","type":"quantitative","axis":null},"x2":{"field":"x2"},"y2":{"field":"y2"}}},
{"data":{"name":"hull"},"mark":{"type":"line","color":"#3a3320","strokeWidth":1.3},"encoding":{"x":{"field":"x","type":"quantitative","axis":null},"y":{"field":"y","type":"quantitative","axis":null},"order":{"field":"i"}}},
{"data":{"name":"cross"},"mark":{"type":"rule","color":"#222","strokeWidth":1,"strokeDash":[2,2]},"encoding":{"x":{"field":"x","type":"quantitative","axis":null},"y":{"field":"y","type":"quantitative","axis":null},"x2":{"field":"x2"},"y2":{"field":"y2"}}},
{"data":{"name":"tips"},"mark":{"type":"point","filled":true,"size":26,"color":"#111","opacity":1},"encoding":{"x":{"field":"x","type":"quantitative","axis":null},"y":{"field":"y","type":"quantitative","axis":null},"shape":{"field":"s","type":"nominal","scale":null}}}
]},
{"width":15.3,"height":288,"layer":[
{"data":{"name":"one"},"mark":{"type":"rect","stroke":"#889","strokeWidth":0.6,"fill":{"x1":0,"y1":1,"x2":0,"y2":0,"gradient":"linear","stops":[{"offset":0,"color":"#0000ff"},{"offset":0.25,"color":"#00ffff"},{"offset":0.5,"color":"#00ff00"},{"offset":0.75,"color":"#ffff00"},{"offset":1,"color":"#ff0000"}]}},"encoding":{"x":{"datum":0,"type":"quantitative","scale":{"domain":[0,1],"nice":false},"axis":null},"x2":{"datum":1},"y":{"datum":0,"type":"quantitative","scale":{"domain":[0,100],"range":[288,72],"nice":false},"axis":{"orient":"right","values":[0,12.5,25,37.5,50,62.5,75,87.5,100],"labelExpr":"datum.value==0?'0.000':datum.value==100?'100.0':format(datum.value,'.2f')","title":null,"labelFontSize":8,"tickSize":3,"labelPadding":3,"domain":false}},"y2":{"datum":100}}}
]}
],"bounds":"flush","spacing":1.7}
]}
